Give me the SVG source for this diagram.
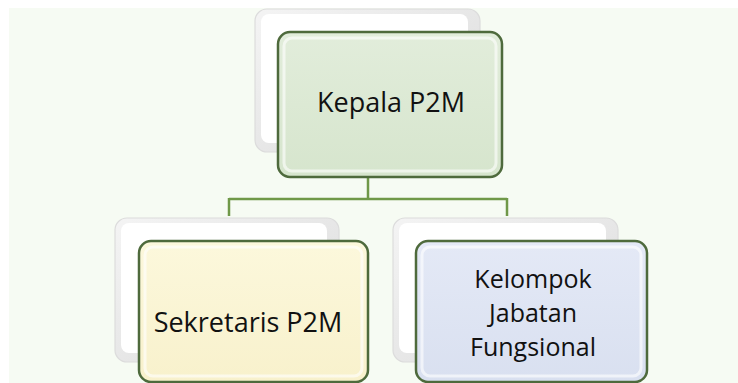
<svg xmlns="http://www.w3.org/2000/svg" width="738" height="383" viewBox="0 0 738 383">
<defs>
<style>
.bg{fill:#f6fbf3}
.back{fill:url(#gBack);stroke:#dcdcdc;stroke-width:1.2}
.backIn{fill:#ffffff;stroke:none}
.front{stroke:#4e6a3c;stroke-width:2.5}
.rim{fill:none;stroke:#ffffff;stroke-opacity:0.6;stroke-width:3}
.conn{fill:none;stroke:#6f9848;stroke-width:2.5}
.lbl{font-family:"Open Sans","Noto Sans","DejaVu Sans",sans-serif;font-size:27px;fill:#111111;text-anchor:middle}
.sm{font-size:25px}
</style>
<linearGradient id="gBack" x1="0" y1="0" x2="1" y2="1">
<stop offset="0" stop-color="#f4f4f4"/>
<stop offset="1" stop-color="#dadada"/>
</linearGradient>
<linearGradient id="gGreen" x1="0" y1="0" x2="0" y2="1">
<stop offset="0" stop-color="#e2eddb"/>
<stop offset="1" stop-color="#d6e5cd"/>
</linearGradient>
<linearGradient id="gYellow" x1="0" y1="0" x2="0" y2="1">
<stop offset="0" stop-color="#fcf8dc"/>
<stop offset="1" stop-color="#f8f1cc"/>
</linearGradient>
<linearGradient id="gBlue" x1="0" y1="0" x2="0" y2="1">
<stop offset="0" stop-color="#e4e9f6"/>
<stop offset="1" stop-color="#d9e0f0"/>
</linearGradient>
</defs>
<rect class="bg" x="9" y="8" width="729" height="375"/>
<g id="connectors">
<path class="conn" d="M368 177 V199 M229 199 H507 M229 198 V216 M507 198 V216"/>
</g>
<g id="node-kepala">
<rect class="back" x="255" y="9" width="225" height="143" rx="12"/>
<rect class="backIn" x="261" y="14" width="207" height="129" rx="8"/>
<rect class="front" x="278" y="32" width="224" height="145" rx="12" fill="url(#gGreen)"/>
<rect class="rim" x="284" y="38" width="212" height="133" rx="8"/>
<text class="lbl" x="391" y="112">Kepala P2M</text>
</g>
<g id="node-sekretaris">
<rect class="back" x="115" y="218" width="224" height="144" rx="12"/>
<rect class="backIn" x="121" y="223" width="206" height="130" rx="8"/>
<rect class="front" x="139" y="241" width="229" height="141" rx="12" fill="url(#gYellow)"/>
<rect class="rim" x="145" y="247" width="217" height="129" rx="8"/>
<text class="lbl" x="248" y="332">Sekretaris P2M</text>
</g>
<g id="node-kelompok">
<rect class="back" x="393" y="218" width="225" height="144" rx="12"/>
<rect class="backIn" x="399" y="223" width="207" height="130" rx="8"/>
<rect class="front" x="416" y="241" width="231" height="141" rx="12" fill="url(#gBlue)"/>
<rect class="rim" x="422" y="247" width="219" height="129" rx="8"/>
<text class="lbl sm" x="533" y="288">Kelompok</text>
<text class="lbl sm" x="533" y="322">Jabatan</text>
<text class="lbl sm" x="533" y="356">Fungsional</text>
</g>
</svg>
